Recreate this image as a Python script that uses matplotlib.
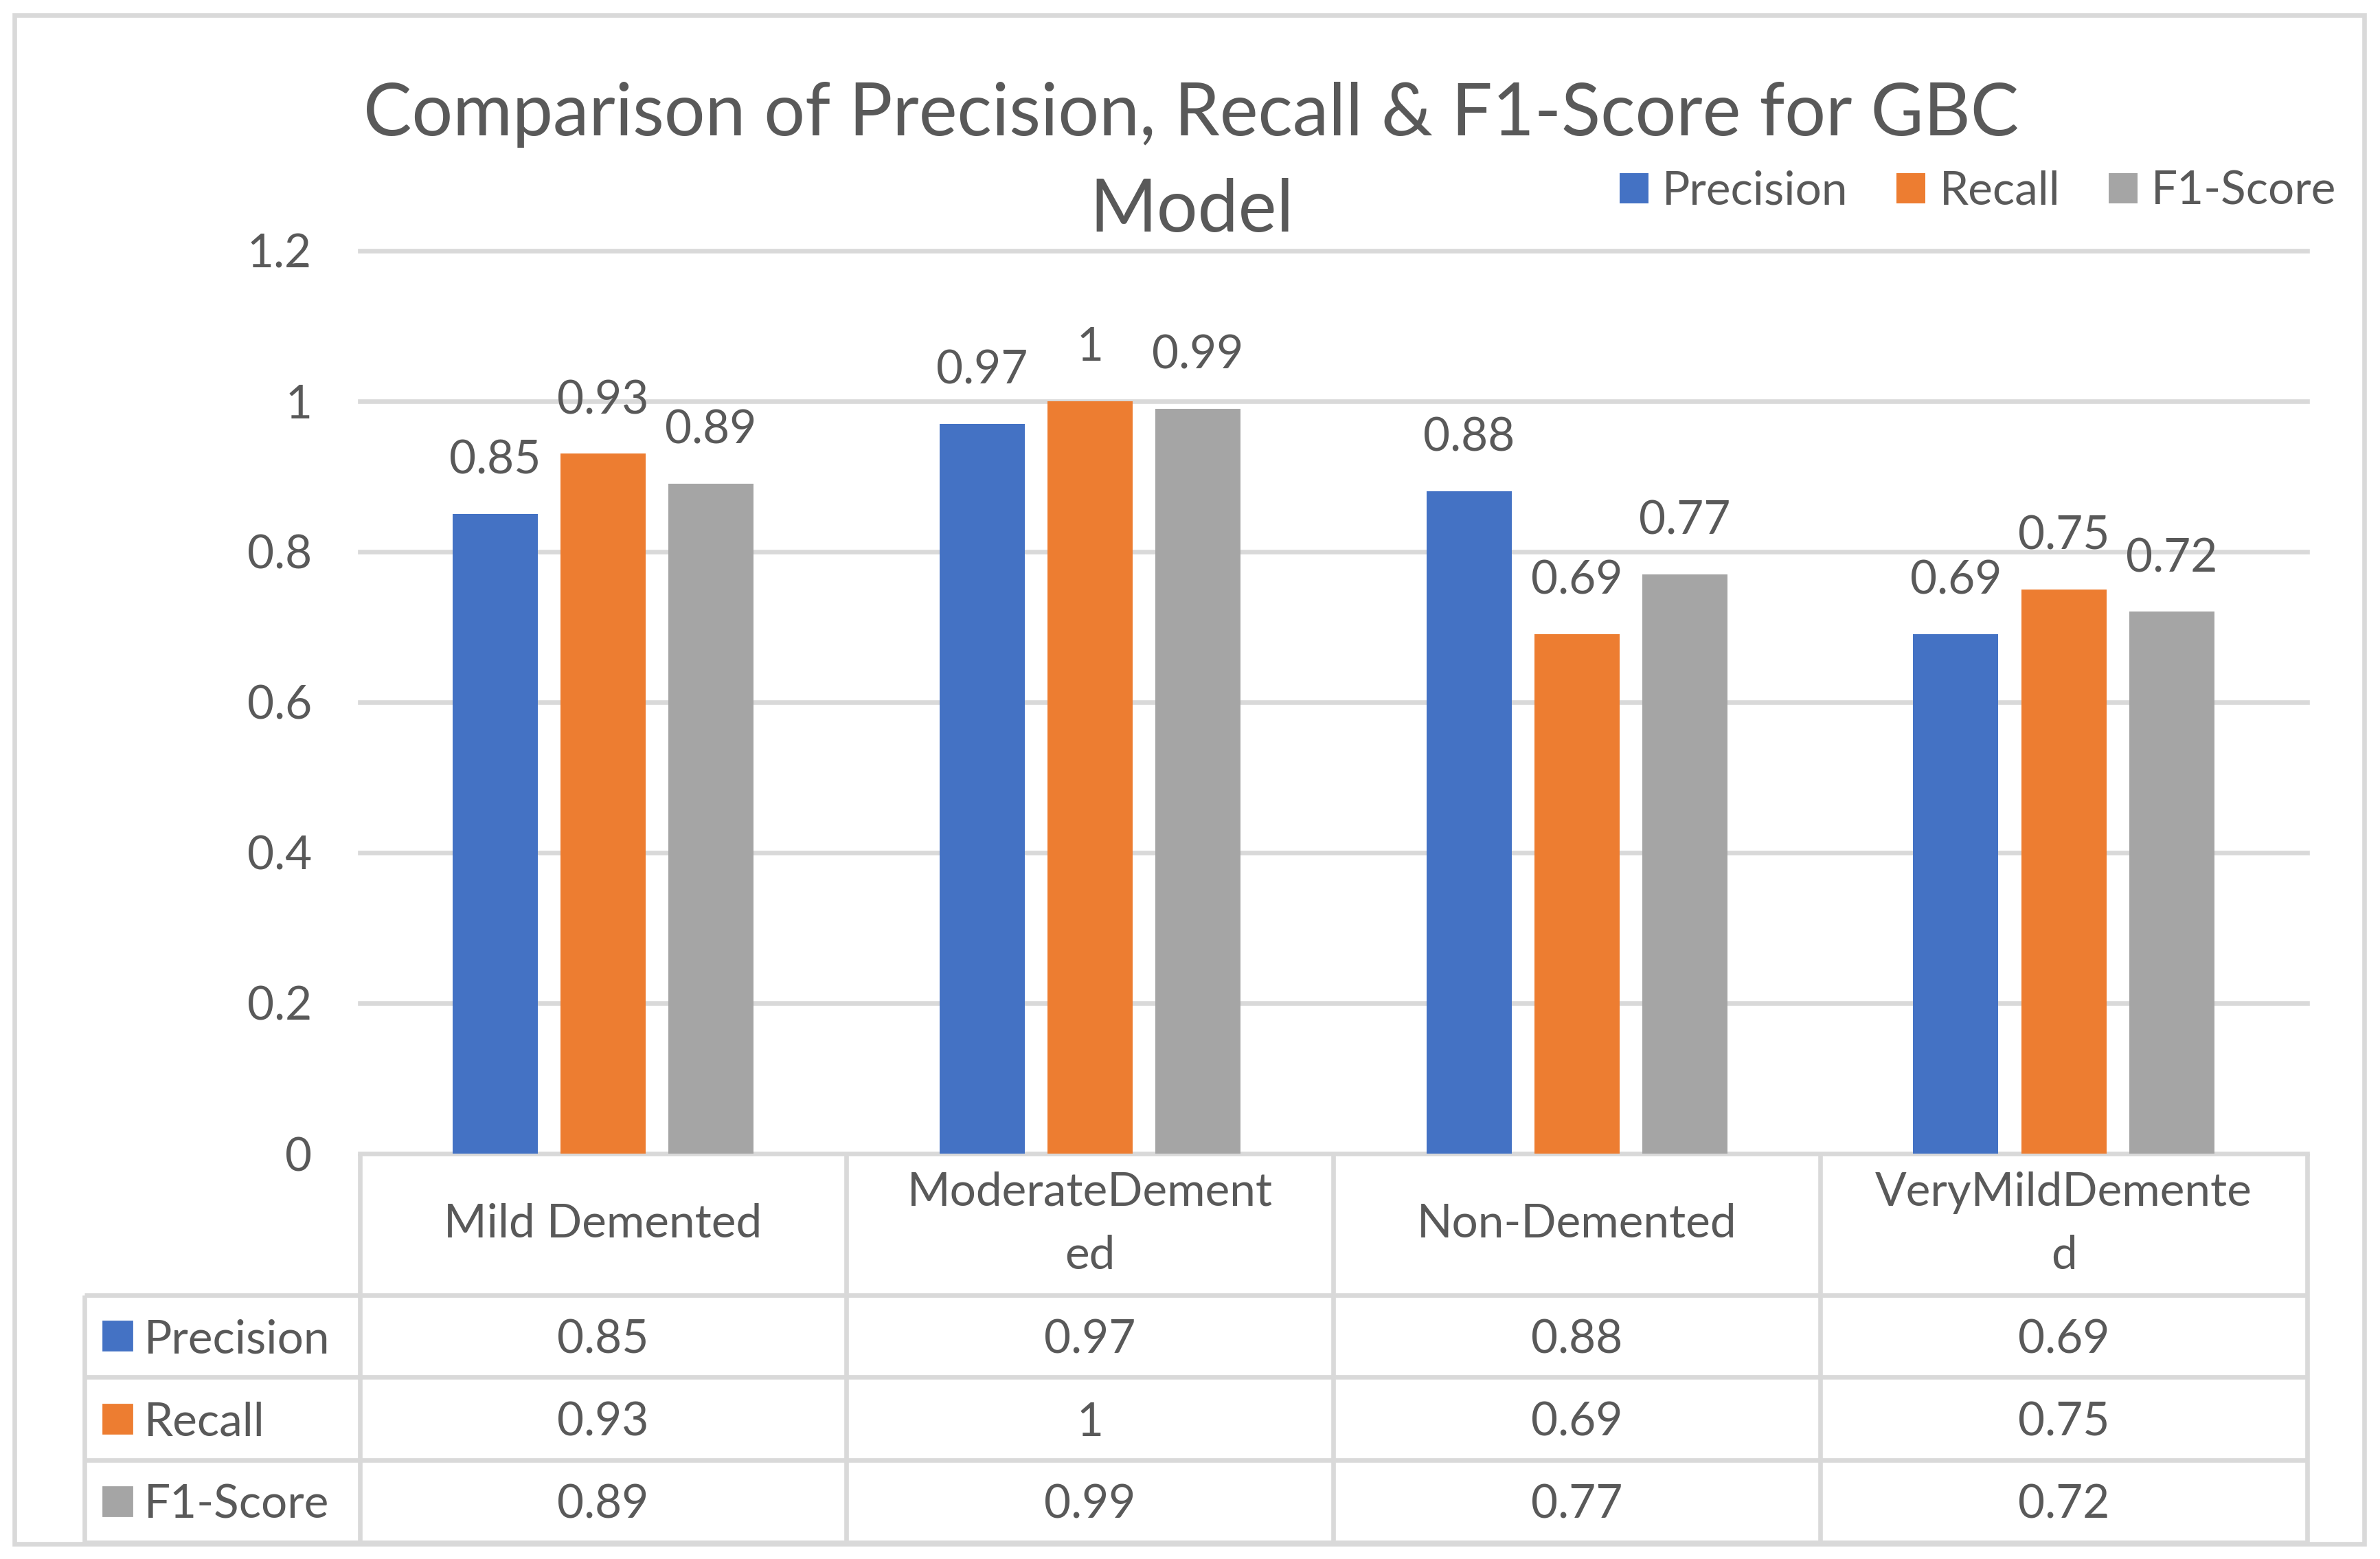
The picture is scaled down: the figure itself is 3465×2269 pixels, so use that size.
import matplotlib.pyplot as plt
import matplotlib.transforms as mtransforms
import numpy as np

categories = ["Mild Demented", "ModerateDemented", "Non-Demented", "VeryMildDemented"]
header_labels = ["Mild Demented", "ModerateDement\ned", "Non-Demented", "VeryMildDemente\nd"]
series_names = ["Precision", "Recall", "F1-Score"]
precision = [0.85, 0.97, 0.88, 0.69]
recall = [0.93, 1, 0.69, 0.75]
f1_score = [0.89, 0.99, 0.77, 0.72]
y_ticks = [0, 0.2, 0.4, 0.6, 0.8, 1, 1.2]
y_tick_labels = ["0", "0.2", "0.4", "0.6", "0.8", "1", "1.2"]
title_lines = ["Comparison of Precision, Recall & F1-Score for GBC", "Model"]

colors = ["#4472C4", "#ED7D31", "#A5A5A5"]
text_color = "#595959"
line_color = "#D9D9D9"
fs = 24.3
lw = 2.4

plt.rcParams["font.family"] = ["Lato", "DejaVu Sans"]

fig = plt.figure(figsize=(17.325, 11.345), dpi=200)
ax = fig.add_axes([0.1511, 0.2600, 0.8183, 0.5793])

series = [precision, recall, f1_score]
x = np.arange(len(categories))
offset = 0.2216
width = 0.175

for i, (name, vals) in enumerate(zip(series_names, series)):
    bars = ax.bar(x + (i - 1) * offset, vals, width, color=colors[i], label=name, zorder=3)
    for b, v in zip(bars, vals):
        ax.annotate(f"{v:g}", (b.get_x() + b.get_width() / 2, v),
                    xytext=(0, 21), textcoords="offset points",
                    ha="center", va="baseline", fontsize=fs, color=text_color)

ax.set_xlim(-0.5, 3.5)
ax.set_ylim(0, 1.2)
ax.set_yticks(y_ticks)
ax.set_yticklabels(y_tick_labels)
ax.set_xticks([])
ax.tick_params(axis="y", length=0, pad=25, labelsize=fs, labelcolor=text_color)
ax.yaxis.grid(True, color=line_color, lw=lw)
ax.set_axisbelow(True)
for gl in ax.get_ygridlines():
    gl.set_clip_on(False)
for s in ax.spines.values():
    s.set_visible(False)

# data table under the chart
trans = mtransforms.blended_transform_factory(ax.transData, ax.transAxes)
row_edges = [0, -0.1563, -0.2471, -0.3395, -0.4303]
left_edge = -1.065
ax.hlines(row_edges[1:], left_edge, len(categories) - 0.5, transform=trans,
          color=line_color, lw=lw, clip_on=False)
ax.vlines(np.arange(len(categories) + 1) - 0.5, row_edges[-1], 0, transform=trans,
          color=line_color, lw=lw, clip_on=False)
ax.vlines(left_edge, row_edges[-1], row_edges[1], transform=trans,
          color=line_color, lw=lw, clip_on=False)

header_y = (row_edges[0] + row_edges[1]) / 2
for i, lab in enumerate(header_labels):
    ax.text(i, header_y, lab, transform=trans, ha="center", va="center",
            fontsize=fs, color=text_color, linespacing=1.6)

for r, (name, vals) in enumerate(zip(series_names, series)):
    yc = (row_edges[r + 1] + row_edges[r + 2]) / 2
    ax.plot(-0.998, yc, marker="s", ms=15, color=colors[r], transform=trans, clip_on=False)
    ax.text(-0.943, yc, name, transform=trans, ha="left", va="center_baseline",
            fontsize=fs, color=text_color)
    for i, v in enumerate(vals):
        ax.text(i, yc, f"{v:g}", transform=trans, ha="center", va="center_baseline",
                fontsize=fs, color=text_color)

# title wraps onto two lines like the original
for line, yb in zip(title_lines, [0.9132, 0.8515]):
    fig.text(0.5006, yb, line, ha="center", va="baseline", fontsize=38,
             color=text_color)

fig.legend(loc="center left", bbox_to_anchor=(0.6805, 0.8773), ncol=3, frameon=False,
           fontsize=fs, labelcolor=text_color, handlelength=0.62, handleheight=0.62,
           handletextpad=0.3, columnspacing=1.05, borderpad=0, borderaxespad=0)

# outer chart border
fig.patches.append(plt.Rectangle((0.0061, 0.0097), 0.9872, 0.9806, transform=fig.transFigure,
                                 fill=False, edgecolor=line_color, lw=lw))

fig.savefig("out.png", dpi=200)
plt.close(fig)
